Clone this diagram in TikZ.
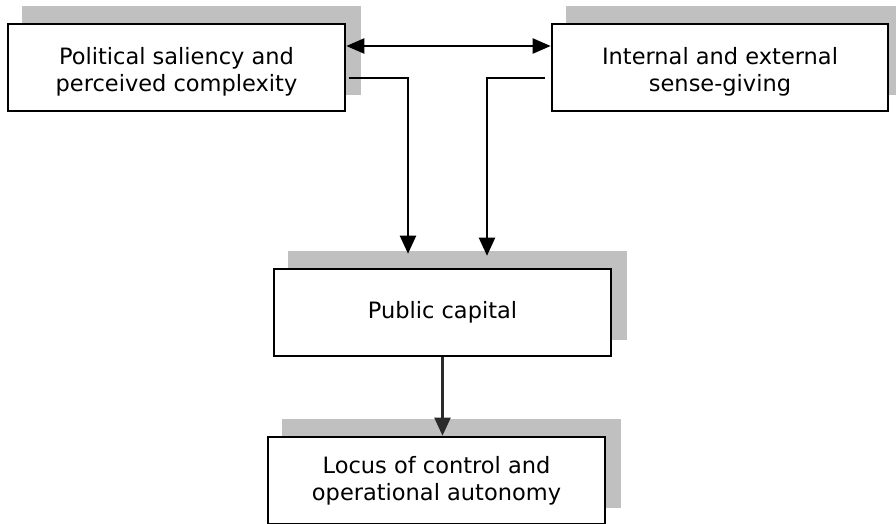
\documentclass[tikz,border=0pt]{standalone}
\usepackage{fontspec}
\setmainfont{DejaVu Sans}
\usetikzlibrary{arrows.meta,backgrounds}
\definecolor{shadegray}{HTML}{C0C0C0}
\definecolor{darkline}{HTML}{2A2A2A}
% invisible strut that pushes a two-line label slightly below centre
\newcommand{\lowerstrut}{\rule{0pt}{25pt}}
\tikzset{
  box/.style={draw=black, line width=2.6pt, fill=white, minimum width=337pt,
    minimum height=87pt, align=center, inner sep=0pt,
    font=\fontsize{22.5}{27}\selectfont},
  link/.style={line width=2.2pt, draw=black},
  headtip/.style={-{Triangle[length=18pt,width=16pt]}},
  shadowbox/.style={fill=shadegray, draw=none}
}
\begin{document}
\begin{tikzpicture}[x=1pt,y=-1pt]
\useasboundingbox (0,0) rectangle (896,523);

\node[box] (pol) at (176.5,67.5) {\lowerstrut Political saliency and\\perceived complexity};
\node[box, minimum width=336pt] (int) at (720,67.5) {\lowerstrut Internal and external\\sense-giving};
\node[box] (pub) at (442.5,312.5) {Public capital};
\node[box] (loc) at (436.5,480.5) {Locus of control and\\operational autonomy};

% offset grey plates behind each box
\begin{scope}[on background layer]
  \foreach \n in {pol,int,pub,loc}
    \fill[shadowbox] ([shift={(15,-17)}]\n.south west) rectangle ([shift={(15,-17)}]\n.north east);
\end{scope}

% mutual influence between the two top boxes
\draw[link, {Triangle[length=18pt,width=15pt]}-{Triangle[length=18pt,width=15pt]}]
  ([yshift=21.5pt]pol.east) -- ([yshift=21.5pt]int.west);

% both top boxes feed public capital
\draw[link, headtip] ([shift={(3pt,-10.5pt)}]pol.east) -| ([shift={(-34.5pt,14pt)}]pub.north);
\draw[link, headtip] ([shift={(-6pt,-10.5pt)}]int.west) -| ([shift={(44.5pt,12pt)}]pub.north);

% public capital leads to locus of control
\draw[link, draw=darkline, -{Triangle[length=18pt,width=16pt,fill=darkline]}]
  (pub.south) -- ([xshift=6pt]loc.north);
\end{tikzpicture}
\end{document}
